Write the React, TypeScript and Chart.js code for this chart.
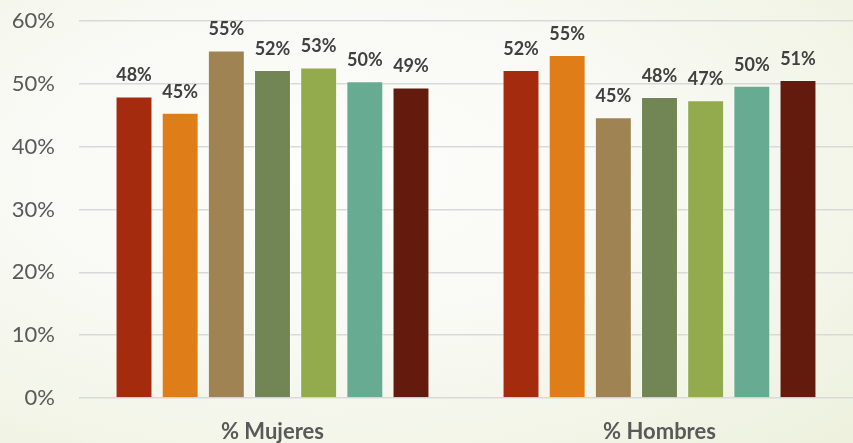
import React, { useEffect, useRef } from "react";
import { Chart, registerables } from "chart.js";

Chart.register(...registerables);

const categories = ["% Mujeres", "% Hombres"];
const seriesNames = ["Serie 1", "Serie 2", "Serie 3", "Serie 4", "Serie 5", "Serie 6", "Serie 7"];
const series1 = [48.0, 52.2];
const series2 = [45.4, 54.6];
const series3 = [55.3, 44.7];
const series4 = [52.2, 47.9];
const series5 = [52.6, 47.4];
const series6 = [50.4, 49.7];
const series7 = [49.4, 50.6];
const seriesValues = [series1, series2, series3, series4, series5, series6, series7];
const seriesColors = ["#A52B0E", "#DF7D18", "#A08352", "#718654", "#93AA4D", "#67AC92", "#621B0C"];
const yTicks = [0, 10, 20, 30, 40, 50, 60];

const FONT = "Lato, 'Noto Sans', sans-serif";

const valueLabels = {
  id: "valueLabels",
  afterDatasetsDraw(chart: any) {
    const ctx = chart.ctx;
    ctx.save();
    ctx.font = `bold 18px ${FONT}`;
    ctx.fillStyle = "#404040";
    ctx.textAlign = "center";
    ctx.textBaseline = "bottom";
    chart.data.datasets.forEach((ds: any, i: number) => {
      const meta = chart.getDatasetMeta(i);
      meta.data.forEach((el: any, j: number) => {
        const v = ds.data[j];
        ctx.fillText(Math.round(v) + "%", el.x, el.y - 12);
      });
    });
    ctx.restore();
  },
};

export default function App() {
  const ref = useRef<HTMLCanvasElement>(null);
  useEffect(() => {
    document.body.style.margin = "0";
    const chart = new Chart(ref.current!, {
      type: "bar",
      data: {
        labels: categories,
        datasets: seriesValues.map((vals, i) => ({
          label: seriesNames[i],
          data: vals,
          backgroundColor: seriesColors[i],
          borderColor: "rgba(255,255,255,0.45)",
          borderWidth: 1,
          categoryPercentage: 0.835,
          barPercentage: 0.8,
        })),
      },
      options: {
        animation: false,
        responsive: false,
        maintainAspectRatio: false,
        layout: { padding: { top: 21, right: 0, left: 0, bottom: 0 } },
        plugins: { legend: { display: false }, tooltip: { enabled: false } },
        scales: {
          x: {
            grid: { display: false },
            border: { display: false },
            ticks: {
              color: "#595959",
              font: { family: FONT, size: 22, weight: "bold" },
              padding: 13,
            },
            afterFit(scale: any) {
              scale.height = 45;
              scale.paddingLeft = 0;
              scale.paddingRight = 0;
            },
          },
          y: {
            min: 0,
            max: 60,
            afterBuildTicks(scale: any) {
              scale.ticks = yTicks.map((v) => ({ value: v }));
            },
            grid: { color: "#d9d9d9", lineWidth: 1.5, drawTicks: false },
            border: { display: false },
            ticks: {
              color: "#595959",
              font: { family: FONT, size: 22 },
              padding: 24,
              callback: (v: any) => v + "%",
            },
            afterFit(scale: any) {
              scale.width = 79;
              scale.paddingTop = 0;
              scale.paddingBottom = 0;
            },
          },
        },
      },
      plugins: [valueLabels],
    });
    return () => chart.destroy();
  }, []);
  return (
    <div
      style={{
        position: "fixed",
        left: 0,
        top: 0,
        width: 853,
        height: 443,
        background:
          "radial-gradient(ellipse at 38% 38%, #fdfdfb 0%, #f9faf5 40%, #edf1dd 100%)",
      }}
    >
      <canvas ref={ref} width={853} height={443} style={{ display: "block" }} />
    </div>
  );
}
